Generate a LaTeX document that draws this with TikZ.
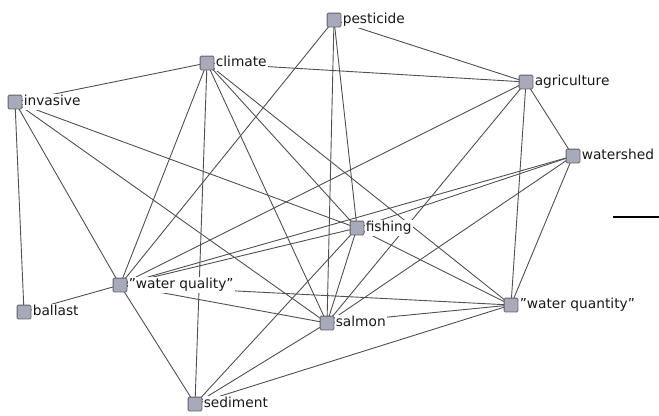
\documentclass[tikz,border=0pt]{standalone}
\usepackage{fontspec}
\setmainfont{DejaVu Sans}
\usetikzlibrary{backgrounds}
\definecolor{vfill}{RGB}{168,170,186}
\definecolor{vborder}{RGB}{95,95,110}
\definecolor{edgecol}{RGB}{80,80,80}
\definecolor{labtext}{RGB}{25,25,25}
\begin{document}
\begin{tikzpicture}[x=1bp,y=-1bp,
  vert/.style={draw=vborder, fill=vfill, minimum size=13bp, inner sep=0pt, rounded corners=1.2bp, line width=0.8bp},
  lab/.style={anchor=west, fill=white, inner sep=1.2bp, text height=10bp, text depth=3bp, font=\fontsize{13.8}{16}\selectfont, text=labtext},
  link/.style={draw=edgecol, line width=0.9bp}]
\useasboundingbox (0,0) rectangle (659,415);
% vertices
\node[vert] (pe) at (334,20) {};
\node[vert] (cl) at (207,63) {};
\node[vert] (in) at (15,102) {};
\node[vert] (ag) at (526,82) {};
\node[vert] (ws) at (573,156) {};
\node[vert] (fi) at (357,228) {};
\node[vert] (wq) at (120,285) {};
\node[vert] (ba) at (24,312) {};
\node[vert] (sa) at (327,323) {};
\node[vert] (wy) at (511,305) {};
\node[vert] (se) at (195,404) {};
% edges
\begin{scope}[on background layer]
\foreach \a/\b in {in/cl, in/ba, in/wq, in/sa, in/fi,
  cl/ag, cl/wq, cl/se, cl/sa, cl/fi, cl/wy,
  pe/ag, pe/fi, pe/sa, pe/wq,
  ag/wq, ag/sa, ag/ws, ag/wy,
  ws/wq, ws/fi, ws/sa, ws/wy,
  fi/wq, fi/se, fi/sa, fi/wy,
  wq/ba, wq/se, wq/sa, wq/wy,
  sa/se, sa/wy, se/wy}
  \draw[link] (\a.center) -- (\b.center);
\end{scope}
% labels
\node[lab] (pe-l) at ([xshift=0.5bp]pe.east) {pesticide};
\node[lab] (cl-l) at ([xshift=0.5bp]cl.east) {climate};
\node[lab] (in-l) at ([xshift=0.5bp]in.east) {invasive};
\node[lab] (ag-l) at ([xshift=0.5bp]ag.east) {agriculture};
\node[lab] (ws-l) at ([xshift=0.5bp]ws.east) {watershed};
\node[lab] (fi-l) at ([xshift=0.5bp]fi.east) {fishing};
\node[lab] (wq-l) at ([xshift=0.5bp]wq.east) {\char34 water quality\char34};
\node[lab] (ba-l) at ([xshift=0.5bp]ba.east) {ballast};
\node[lab] (sa-l) at ([xshift=0.5bp]sa.east) {salmon};
\node[lab] (wy-l) at ([xshift=0.5bp]wy.east) {\char34 water quantity\char34};
\node[lab] (se-l) at ([xshift=0.5bp]se.east) {sediment};
% redraw squares on top of labels
\foreach \n in {pe,cl,in,ag,ws,fi,wq,ba,sa,wy,se}
  \draw[draw=vborder, fill=vfill, line width=0.8bp, rounded corners=1.2bp] (\n.south west) rectangle (\n.north east);
% black bar at right
\draw[line width=2.6bp, black] (613,217) -- (659,217);
\end{tikzpicture}
\end{document}
